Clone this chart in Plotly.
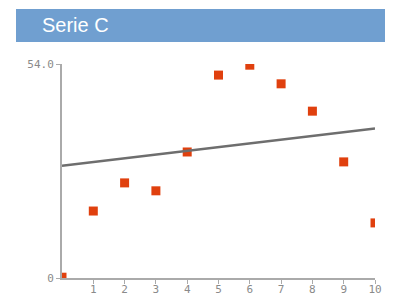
import plotly.graph_objects as go

x_values = [0, 1, 2, 3, 4, 5, 6, 7, 8, 9, 10]
serie_c = [0.2, 16.9, 24.0, 22.0, 31.8, 51.2, 53.7, 49.0, 42.1, 29.3, 13.9]
trend_x = [0, 10]
trend_y = [28.3, 37.7]
x_tickvals = [1, 2, 3, 4, 5, 6, 7, 8, 9, 10]
y_tickvals = [0, 54]
y_ticktext = ["0", "54.0"]

OFF = 8  # page body margin
W, H = 395 - OFF, 295 - OFF
L, R, T, B = 62 - OFF, 20, 64 - OFF, 17
pw, ph = W - L - R, H - T - B

def px(xp):
    return (xp - OFF - L) / pw

def py(yp):
    return (H - B - (yp - OFF)) / ph

fig = go.Figure()
fig.add_trace(go.Scatter(
    x=x_values, y=serie_c, mode="markers",
    marker=dict(symbol="square", size=9, color="#e0400e", line=dict(width=0)),
    cliponaxis=True, showlegend=False, hoverinfo="skip"))
fig.add_trace(go.Scatter(
    x=trend_x, y=trend_y, mode="lines",
    line=dict(color="#6e6e6e", width=2.5),
    showlegend=False, hoverinfo="skip"))

tickfont = dict(family="DejaVu Sans Mono", size=11, color="#8a8a8a")
fig.update_layout(
    width=W, height=H,
    margin=dict(l=L, r=R, t=T, b=B),
    paper_bgcolor="white", plot_bgcolor="white",
    xaxis=dict(range=[0, 10], tickvals=x_tickvals, ticks="outside", ticklen=4,
               tickcolor="#aaaaaa", showline=True, linecolor="#aaaaaa", linewidth=2,
               showgrid=False, zeroline=False, tickfont=tickfont, automargin=False,
               ticklabelstandoff=-4, fixedrange=True),
    yaxis=dict(range=[0, 54], tickvals=y_tickvals, ticktext=y_ticktext, ticks="outside",
               ticklen=4, tickcolor="#aaaaaa", showline=True, linecolor="#aaaaaa",
               linewidth=2, showgrid=False, zeroline=False, tickfont=tickfont,
               automargin=False, fixedrange=True),
    shapes=[dict(type="rect", xref="paper", yref="paper",
                 x0=px(16), x1=px(385), y0=py(42), y1=py(9),
                 fillcolor="#709fd0", line=dict(width=0), layer="below")],
    annotations=[dict(text="Serie C", xref="paper", yref="paper",
                      x=px(40), y=py(25.5), xanchor="left", yanchor="middle",
                      showarrow=False,
                      font=dict(family="Liberation Sans, Arial", size=20, color="white"))],
)

fig.write_html("out.html")
